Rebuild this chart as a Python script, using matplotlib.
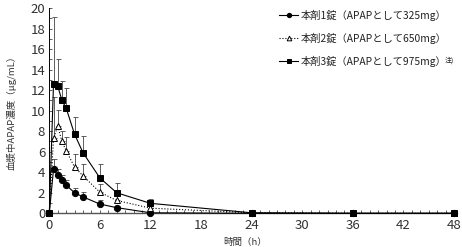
import numpy as np
import matplotlib
matplotlib.use("Agg")
import matplotlib.pyplot as plt

plt.rcParams["font.family"] = ["Noto Sans CJK JP", "DejaVu Sans"]

# time points (h)
hours = [0, 0.5, 1, 1.5, 2, 3, 4, 6, 8, 12, 24, 36, 48]

# mean plasma APAP concentration (ug/mL) and upper SD
conc_1tab = [0, 4.3, 3.7, 3.2, 2.75, 2.0, 1.6, 0.9, 0.55, 0.05, 0.0, 0.0, 0.0]
sd_1tab = [0, 1.0, 0.6, 0.5, 0.5, 0.5, 0.45, 0.35, 0.2, 0, 0, 0, 0]

conc_2tab = [0, 7.3, 8.5, 7.0, 6.1, 4.5, 3.65, 2.05, 1.25, 0.5, 0.05, 0.0, 0.0]
sd_2tab = [0, 4.0, 1.6, 1.0, 1.3, 1.3, 1.15, 0.85, 0.7, 0.3, 0, 0, 0]

conc_3tab = [0, 12.6, 12.4, 11.0, 10.25, 7.7, 5.9, 3.45, 2.0, 0.97, 0.05, 0.0, 0.0]
sd_3tab = [0, 6.5, 2.6, 1.9, 1.95, 1.7, 1.6, 1.35, 1.0, 0.4, 0, 0, 0]

labels = ["本剤1錠（APAPとして325mg）",
          "本剤2錠（APAPとして650mg）",
          "本剤3錠（APAPとして975mg）"]

fig = plt.figure(figsize=(4.62, 2.47), dpi=100)
ax = fig.add_axes([0.1067, 0.1364, 0.876, 0.831])

series = [
    (conc_1tab, sd_1tab, dict(marker="o", ls="-", mfc="black", ms=4.5)),
    (conc_2tab, sd_2tab, dict(marker="^", ls=":", mfc="white", ms=4.8)),
    (conc_3tab, sd_3tab, dict(marker="s", ls="-", mfc="black", ms=5.0)),
]

t = np.array(hours)
for (conc, sd, style), label in zip(series, labels):
    conc = np.array(conc)
    sd = np.array(sd)
    has_err = sd > 0
    ax.errorbar(t[has_err], conc[has_err], yerr=[np.zeros(has_err.sum()), sd[has_err]],
                fmt="none", ecolor="#444444", elinewidth=0.6, capsize=1.8, capthick=0.6,
                zorder=2)
    ax.plot(t, conc, color="black", lw=0.8, mec="black", mew=0.7,
            label=label, clip_on=False, zorder=3, **style)

ax.set_xlim(0, 48)
ax.set_ylim(0, 20)
ax.set_xticks(np.arange(0, 49, 6))
ax.set_xticks(np.arange(0, 49, 1), minor=True)
ax.set_yticks(np.arange(0, 21, 2))
ax.set_yticks(np.arange(0, 21, 1), minor=True)
ax.tick_params(which="both", direction="in", length=2, width=0.6, color="#444444")
ax.tick_params(axis="both", which="major", labelsize=9.5, labelcolor="#333333", pad=4)
ax.tick_params(axis="y", which="major", pad=3)

ax.spines["top"].set_visible(False)
ax.spines["right"].set_visible(False)
ax.spines["left"].set_linewidth(0.7)
ax.spines["bottom"].set_linewidth(1.0)
ax.spines["bottom"].set_color("#555555")

fig.text(0.024, 0.555, "血漿中APAP濃度（μg/mL）", rotation=90, ha="center",
         va="center", fontsize=6.8, color="#333333")
fig.text(0.53, 0.0, "時間（h）", ha="center", va="bottom",
         fontsize=6.8, color="#333333")

leg = fig.legend(loc="upper left", bbox_to_anchor=(0.588, 0.99), frameon=False,
                 fontsize=7.4, handlelength=1.9, handletextpad=0.2,
                 labelspacing=1.15, markerscale=0.7, borderaxespad=0.3)
for txt in leg.get_texts():
    txt.set_color("#222222")

# superscript note after the third label
fig.canvas.draw()
bb = leg.get_texts()[2].get_window_extent()
x_note, y_note = fig.transFigure.inverted().transform((bb.x1 - 1, bb.y1 - 1))
fig.text(x_note, y_note, "注)", fontsize=5, va="top", ha="left", color="#222222")

fig.savefig("out.png", dpi=100)
